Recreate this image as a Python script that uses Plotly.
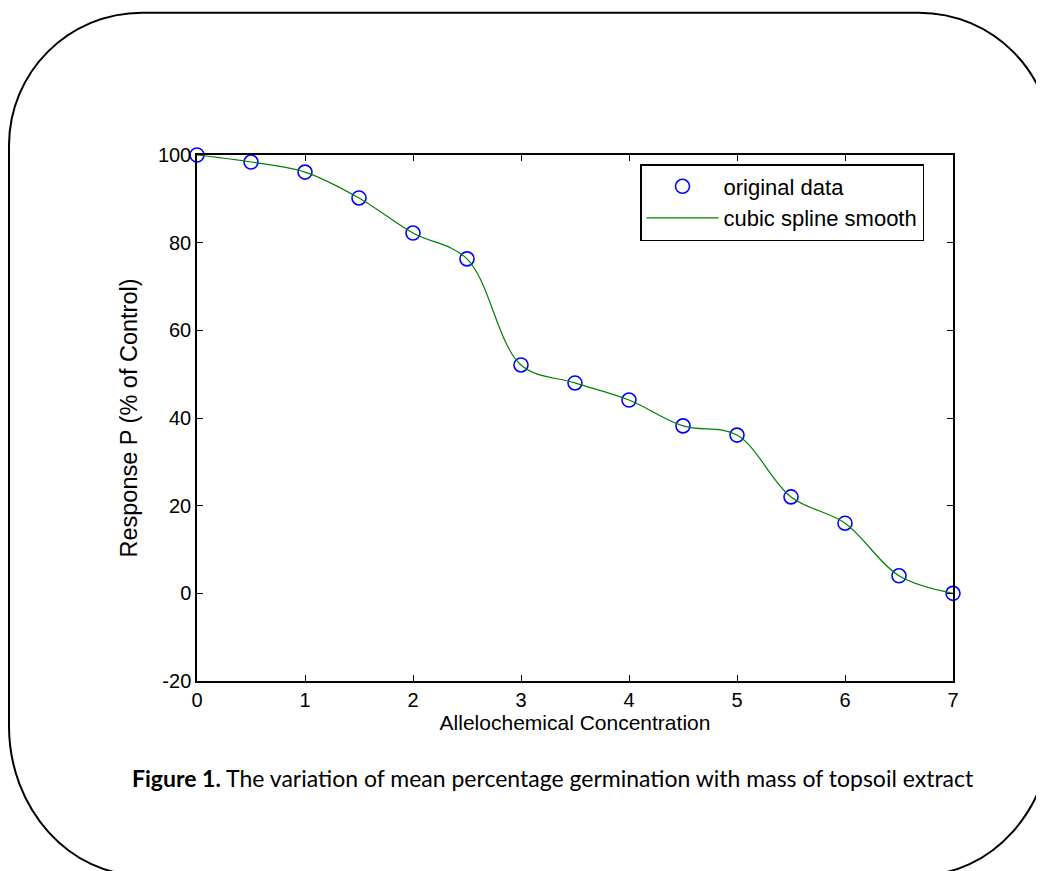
import plotly.graph_objects as go

# ---- data ----
concentration = [0, 0.5, 1, 1.5, 2, 2.5, 3, 3.5, 4, 4.5, 5, 5.5, 6, 6.5, 7]
response = [100, 98.4, 96.1, 90.2, 82.2, 76.3, 52.1, 48.0, 44.1, 38.2, 36.1, 22.0, 16.0, 4.0, 0]
x_ticks = [0, 1, 2, 3, 4, 5, 6, 7]
y_ticks = [-20, 0, 20, 40, 60, 80, 100]

OFF = 8  # page body margin
W, H = 1044, 871
# plot area in screenshot pixels: x 197..953, y 155..681
ML = 197 - OFF
MT = 155 - OFF
MR = W - (953 - OFF)
MB = H - (681 - OFF)
PW, PH = W - ML - MR, H - MT - MB


def px(x):
    return (x - OFF - ML) / PW


def py(y):
    return (H - MB - (y - OFF)) / PH


fig = go.Figure()
fig.add_trace(go.Scatter(
    x=concentration, y=response, mode="markers", name="original data",
    marker=dict(symbol="circle-open", size=14, color="#0000ff", line=dict(width=1.6, color="#0000ff")),
    cliponaxis=False,
))
fig.add_trace(go.Scatter(
    x=concentration, y=response, mode="lines", name="cubic spline smooth",
    line=dict(color="#008000", width=1.2, shape="spline", smoothing=1.0),
))

FAM = "Liberation Sans, Arial, sans-serif"
tick_font = dict(family=FAM, size=20, color="#000000")

axis_common = dict(
    showgrid=False, zeroline=False, showline=True, linecolor="#000000", linewidth=1.5,
    mirror="ticks", ticks="inside", ticklen=6, tickwidth=1, tickcolor="#000000",
    tickfont=tick_font,
)
fig.update_xaxes(range=[0, 7], tickvals=x_ticks, ticktext=[str(v) for v in x_ticks],
                 title=dict(text="Allelochemical Concentration",
                            font=dict(family=FAM, size=21, color="#000000"), standoff=6),
                 **axis_common)
fig.update_yaxes(range=[-20, 100], tickvals=y_ticks, ticktext=[str(v) for v in y_ticks],
                 title=dict(text="Response P (% of Control)",
                            font=dict(family=FAM, size=23.5, color="#000000"), standoff=14),
                 **axis_common)

# rounded frame around the figure (screenshot pixel positions converted to paper)
k = 0.5523
L, T, R, B = 9, 12.7, 1052, 876
rt = 133
rbx, rby = 135, 150


def P(x, y):
    return f"{px(x):.5f},{py(y):.5f}"


path = (
    f"M {P(L + rt, T)} L {P(R - rt, T)} "
    f"C {P(R - rt + k * rt, T)} {P(R, T + rt - k * rt)} {P(R, T + rt)} "
    f"L {P(R, B - rby)} "
    f"C {P(R, B - rby + k * rby)} {P(R - rbx + k * rbx, B)} {P(R - rbx, B)} "
    f"L {P(L + rbx, B)} "
    f"C {P(L + rbx - k * rbx, B)} {P(L, B - rby + k * rby)} {P(L, B - rby)} "
    f"L {P(L, T + rt)} "
    f"C {P(L, T + rt - k * rt)} {P(L + rt - k * rt, T)} {P(L + rt, T)} Z"
)
fig.add_shape(type="path", path=path, xref="paper", yref="paper",
              line=dict(color="#000000", width=2), fillcolor="rgba(0,0,0,0)", layer="above")

fig.add_annotation(
    xref="paper", yref="paper", x=px(553), y=py(778), xanchor="center", yanchor="middle",
    text="<b>Figure 1.</b> The variation of mean percentage germination with mass of topsoil extract",
    showarrow=False, font=dict(family="Lato, Noto Sans, sans-serif", size=23, color="#000000"),
)

fig.update_layout(
    width=W, height=H,
    margin=dict(l=ML, r=MR, t=MT, b=MB, autoexpand=False),
    paper_bgcolor="#ffffff", plot_bgcolor="#ffffff",
    font=tick_font,
    legend=dict(
        x=px(640), y=py(164), xanchor="left", yanchor="top",
        bordercolor="#000000", borderwidth=1.5, bgcolor="#ffffff",
        font=dict(family=FAM, size=22, color="#000000"),
        itemwidth=72, tracegroupgap=0,
    ),
    showlegend=True,
)

fig.write_html("out.html")
